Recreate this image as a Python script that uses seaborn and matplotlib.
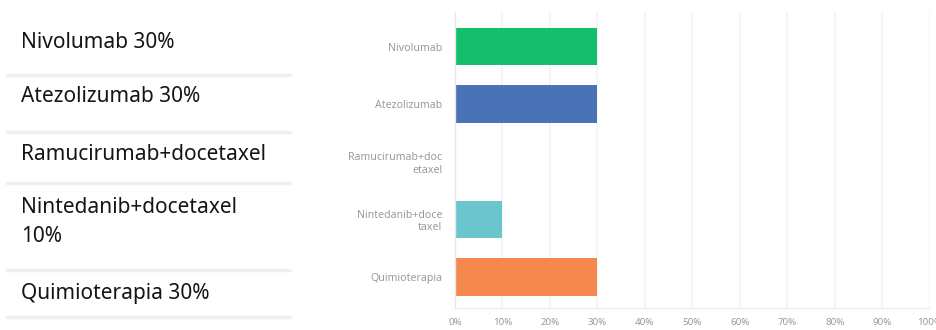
import matplotlib
matplotlib.use("Agg")
import matplotlib.pyplot as plt
import seaborn as sns
import pandas as pd
from matplotlib.lines import Line2D

categories = ["Nivolumab", "Atezolizumab", "Ramucirumab+doc\netaxel", "Nintedanib+doce\ntaxel", "Quimioterapia"]
values = [30, 30, 0, 10, 30]
bar_colors = ["#14be6c", "#4a72b6", "#cccccc", "#6ac6cc", "#f5884c"]
xticks = [0, 10, 20, 30, 40, 50, 60, 70, 80, 90, 100]
xtick_labels = ["0%", "10%", "20%", "30%", "40%", "50%", "60%", "70%", "80%", "90%", "100%"]
side_labels = ["Nivolumab 30%", "Atezolizumab 30%", "Ramucirumab+docetaxel", "Nintedanib+docetaxel\n10%", "Quimioterapia 30%"]

sns.set_theme(style="white")
plt.rcParams['font.family'] = ['Noto Sans', 'DejaVu Sans']

W, H = 937, 330
fig = plt.figure(figsize=(W / 100, H / 100), dpi=100)

def fx(px):
    return px / W

def fy(py):
    return 1 - py / H

ax = fig.add_axes([fx(455), fy(308), fx(930) - fx(455), fy(12) - fy(308)])

df = pd.DataFrame({"cat": categories, "val": values})
sns.barplot(data=df, y="cat", x="val", hue="cat", palette=bar_colors, legend=False,
            orient="h", width=0.65, ax=ax, edgecolor="none", saturation=1)

ax.set_xlim(0, 100)
ax.set_ylim(4.54, -0.6)
ax.set_xticks(xticks)
ax.set_xticklabels(xtick_labels, fontsize=7, color="#9a9a9a")
ax.tick_params(axis="y", labelsize=7.6, labelcolor="#9a9a9a", length=0, pad=9)
ax.tick_params(axis="x", length=0, pad=7)
ax.set_xlabel("")
ax.set_ylabel("")
for lbl in ax.get_yticklabels():
    lbl.set_horizontalalignment("right")
    lbl.set_multialignment("right")
ax.grid(axis="x", color="#f4f4f4", linewidth=1.2)
ax.set_axisbelow(True)
for s in ["top", "right"]:
    ax.spines[s].set_visible(False)
ax.spines["left"].set_color("#e6e6e6")
ax.spines["bottom"].set_color("#eeeeee")
ax.spines["left"].set_linewidth(1)
ax.spines["bottom"].set_linewidth(1)

# left side text panel
text_y = [43, 97, 155, 222, 293]
for t, y in zip(side_labels, text_y):
    fig.text(fx(21), fy(y), t, fontsize=15, color="#151515", va="center", ha="left",
             linespacing=1.45)

sep_y = [75, 132, 183, 270, 317]
for y in sep_y:
    fig.add_artist(Line2D([fx(7), fx(290)], [fy(y), fy(y)], color="#efefef", linewidth=2.5,
                          transform=fig.transFigure))

fig.savefig("out.png", dpi=100)
